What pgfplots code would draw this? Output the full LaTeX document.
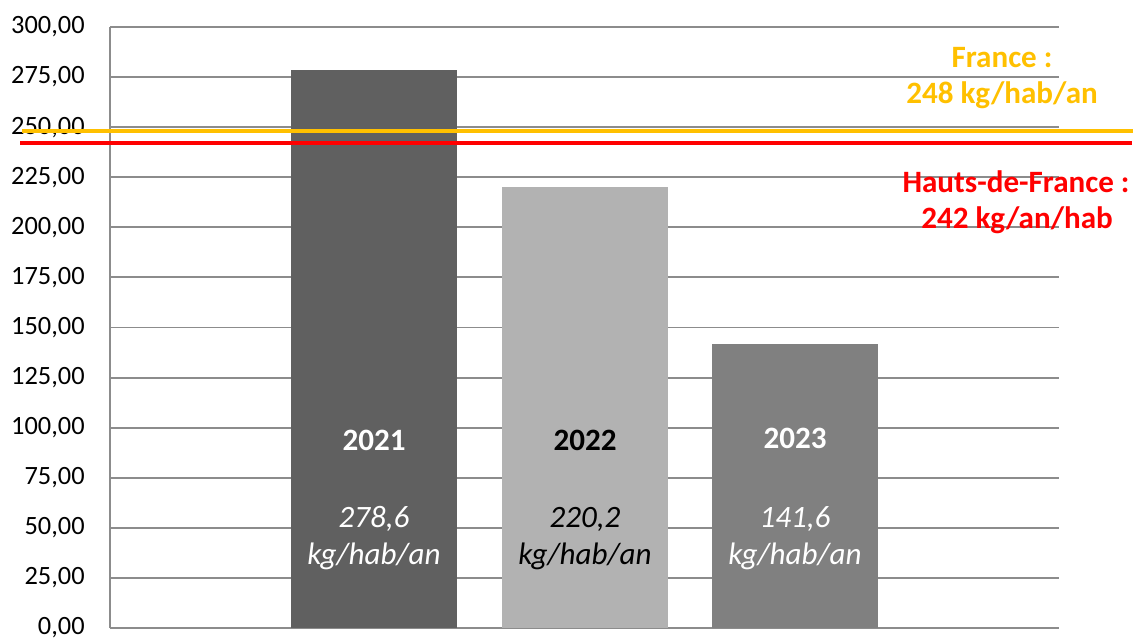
\documentclass[border=0pt]{standalone}
\usepackage{pgfplots}
\pgfplotsset{compat=1.18}
\usepackage{fontspec}
\setmainfont{Carlito}
\definecolor{bar1}{HTML}{606060}
\definecolor{bar2}{HTML}{B2B2B2}
\definecolor{bar3}{HTML}{808080}
\definecolor{gridc}{HTML}{8C8C8C}
\definecolor{frorange}{HTML}{FFC000}
\definecolor{hdfred}{HTML}{FF0000}
\begin{document}
\begin{tikzpicture}
\useasboundingbox (0,0) rectangle (852.75pt,480pt);
\begin{axis}[
  at={(82.5pt,9pt)}, anchor=south west,
  scale only axis, width=711.75pt, height=450.75pt,
  xmin=0, xmax=949, ymin=0, ymax=300,
  clip=false,
  xtick=\empty,
  ytick={0,25,...,300},
  ymajorgrids,
  grid style={gridc, line width=1.4pt},
  major tick length=0pt,
  axis x line*=bottom, axis y line*=left,
  axis line style={gridc, line width=1.4pt, -},
  yticklabel style={font=\fontsize{19.8}{22}\selectfont, xshift=-15.5pt},
  /pgf/number format/.cd, fixed, fixed zerofill, precision=2, use comma, 1000 sep={}, assume math mode=true,
]
\addplot[ybar, bar shift=0pt, bar width=166, fill=bar1, draw=none] coordinates {(264,278.6)};
\addplot[ybar, bar shift=0pt, bar width=166, fill=bar2, draw=none] coordinates {(475,220.2)};
\addplot[ybar, bar shift=0pt, bar width=166, fill=bar3, draw=none] coordinates {(685,141.6)};
\addplot[frorange, line width=3pt] coordinates {(-88,248) (1023,248)};
\addplot[hdfred, line width=3.3pt] coordinates {(-90,242) (1022,242)};

\node[white, font=\bfseries\fontsize{23.3}{26}\selectfont] at (axis cs:264,93.8) {2021};
\node[black, font=\bfseries\fontsize{23.3}{26}\selectfont] at (axis cs:475,93.8) {2022};
\node[white, font=\bfseries\fontsize{23.3}{26}\selectfont] at (axis cs:685,94.8) {2023};

\node[white, font=\itshape\fontsize{23.3}{26}\selectfont] at (axis cs:264,54.4) {278,6};
\node[white, font=\itshape\fontsize{23.3}{26}\selectfont] at (axis cs:264,35.9) {kg/hab/an};
\node[black, font=\itshape\fontsize{23.3}{26}\selectfont] at (axis cs:475,54.4) {220,2};
\node[black, font=\itshape\fontsize{23.3}{26}\selectfont] at (axis cs:475,35.9) {kg/hab/an};
\node[white, font=\itshape\fontsize{23.3}{26}\selectfont] at (axis cs:685,54.4) {141,6};
\node[white, font=\itshape\fontsize{23.3}{26}\selectfont] at (axis cs:685,35.9) {kg/hab/an};

\node[frorange, font=\bfseries\fontsize{23.3}{26}\selectfont] at (axis cs:892,285) {France :};
\node[frorange, font=\bfseries\fontsize{23.3}{26}\selectfont] at (axis cs:892,266) {248 kg/hab/an};
\node[hdfred, font=\bfseries\fontsize{23.3}{26}\selectfont] at (axis cs:906,222.6) {Hauts-de-France :};
\node[hdfred, font=\bfseries\fontsize{23.3}{26}\selectfont] at (axis cs:907,203.7) {242 kg/an/hab};
\end{axis}
\end{tikzpicture}
\end{document}
